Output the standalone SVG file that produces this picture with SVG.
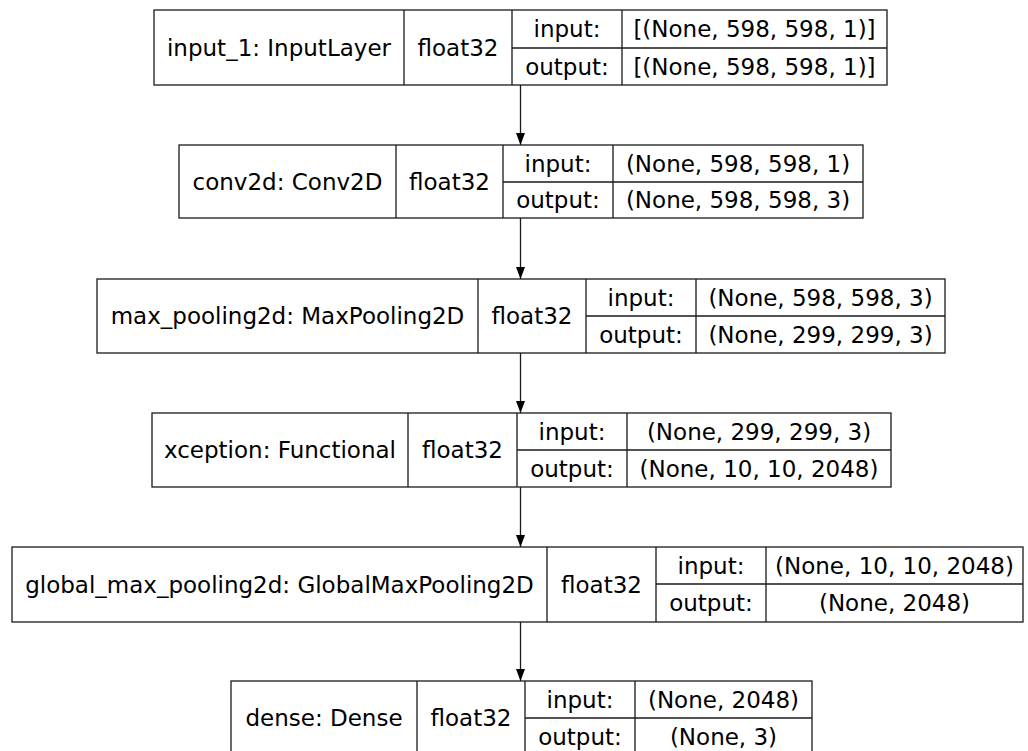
<svg xmlns="http://www.w3.org/2000/svg" width="1028" height="751" viewBox="0 0 1028 751">
  <style>
    .box { fill: #ffffff; stroke: #1a1a1a; stroke-width: 1.3; }
    .ln { stroke: #1a1a1a; stroke-width: 1.3; fill: none; }
    text { font-family: "DejaVu Sans", "Liberation Sans", sans-serif; font-size: 23px; fill: #000000; text-anchor: middle; }
  </style>
  <defs>
    <marker id="head" viewBox="0 0 12 10" refX="12" refY="5" markerWidth="12" markerHeight="10" markerUnits="userSpaceOnUse" orient="auto">
      <path d="M0,0.5 L12,5 L0,9.5 Z" fill="#000000"/>
    </marker>
  </defs>
  <rect width="1028" height="751" fill="#ffffff"/>

  <!-- connectors between consecutive layers -->
  <g id="edges">
    <line class="ln" x1="520.5" y1="85" x2="520.5" y2="145" marker-end="url(#head)"/>
    <line class="ln" x1="520.5" y1="218" x2="520.5" y2="279" marker-end="url(#head)"/>
    <line class="ln" x1="520.5" y1="353" x2="520.5" y2="413" marker-end="url(#head)"/>
    <line class="ln" x1="520.5" y1="487" x2="520.5" y2="547" marker-end="url(#head)"/>
    <line class="ln" x1="520.5" y1="622" x2="520.5" y2="681" marker-end="url(#head)"/>
  </g>

  <g id="input_1">
    <rect class="box" x="154" y="10" width="733" height="75"/>
    <path class="ln" d="M404,10V85M512,10V85M622,10V85M512,48H887"/>
    <text x="279" y="55.5">input_1: InputLayer</text>
    <text x="458" y="55.5">float32</text>
    <text x="567" y="37">input:</text>
    <text x="567" y="74.5">output:</text>
    <text x="754.5" y="37">[(None, 598, 598, 1)]</text>
    <text x="754.5" y="74.5">[(None, 598, 598, 1)]</text>
  </g>

  <g id="conv2d">
    <rect class="box" x="179" y="145" width="684" height="73"/>
    <path class="ln" d="M396,145V218M503,145V218M613,145V218M503,182H863"/>
    <text x="287.5" y="189.5">conv2d: Conv2D</text>
    <text x="449.5" y="189.5">float32</text>
    <text x="558" y="171.5">input:</text>
    <text x="558" y="208">output:</text>
    <text x="738" y="171.5">(None, 598, 598, 1)</text>
    <text x="738" y="208">(None, 598, 598, 3)</text>
  </g>

  <g id="max_pooling2d">
    <rect class="box" x="97" y="279" width="848" height="74"/>
    <path class="ln" d="M478,279V353M586,279V353M696,279V353M586,316H945"/>
    <text x="287.5" y="324">max_pooling2d: MaxPooling2D</text>
    <text x="532" y="324">float32</text>
    <text x="641" y="305.5">input:</text>
    <text x="641" y="342.5">output:</text>
    <text x="820.5" y="305.5">(None, 598, 598, 3)</text>
    <text x="820.5" y="342.5">(None, 299, 299, 3)</text>
  </g>

  <g id="xception">
    <rect class="box" x="152" y="413" width="739" height="74"/>
    <path class="ln" d="M408,413V487M517,413V487M627,413V487M517,450H891"/>
    <text x="280" y="458">xception: Functional</text>
    <text x="462.5" y="458">float32</text>
    <text x="572" y="439.5">input:</text>
    <text x="572" y="476.5">output:</text>
    <text x="759" y="439.5">(None, 299, 299, 3)</text>
    <text x="759" y="476.5">(None, 10, 10, 2048)</text>
  </g>

  <g id="global_max_pooling2d">
    <rect class="box" x="12" y="547" width="1011" height="75"/>
    <path class="ln" d="M547,547V622M656,547V622M766,547V622M656,584H1023"/>
    <text x="279.5" y="592.5">global_max_pooling2d: GlobalMaxPooling2D</text>
    <text x="601.5" y="592.5">float32</text>
    <text x="711" y="573.5">input:</text>
    <text x="711" y="611">output:</text>
    <text x="894.5" y="573.5">(None, 10, 10, 2048)</text>
    <text x="894.5" y="611">(None, 2048)</text>
  </g>

  <g id="dense">
    <rect class="box" x="231" y="681" width="581" height="74"/>
    <path class="ln" d="M417,681V755M525,681V755M635,681V755M525,718H812"/>
    <text x="324" y="726">dense: Dense</text>
    <text x="471" y="726">float32</text>
    <text x="580" y="707.5">input:</text>
    <text x="580" y="744.5">output:</text>
    <text x="723.5" y="707.5">(None, 2048)</text>
    <text x="723.5" y="744.5">(None, 3)</text>
  </g>
</svg>
